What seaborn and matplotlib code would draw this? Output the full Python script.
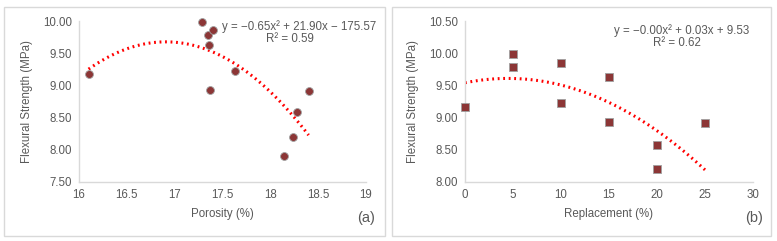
import numpy as np
import pandas as pd
import seaborn as sns
from matplotlib import pyplot as plt
from matplotlib.patches import Rectangle
from matplotlib.transforms import Bbox, TransformedBbox

# values
porosity = [16.10, 17.29, 17.35, 17.40, 17.36, 17.37, 17.63, 18.40, 18.28, 18.24, 18.14]
replacement = [0, 5, 5, 10, 15, 15, 10, 25, 20, 20, 25]
strength = [9.17, 9.99, 9.79, 9.855, 9.63, 8.93, 9.23, 8.92, 8.58, 8.20, 7.91]

eq_a = "y = \u22120.65x\u00b2 + 21.90x \u2212 175.57"
r2_a = "R\u00b2 = 0.59"
eq_b = "y = \u22120.00x\u00b2 + 0.03x + 9.53"
r2_b = "R\u00b2 = 0.62"

df = pd.DataFrame({'porosity': porosity, 'replacement': replacement, 'strength': strength})

sns.set_theme(style='white')
plt.rcParams['font.family'] = ['Liberation Sans', 'DejaVu Sans']

W, H = 777, 241
fig = plt.figure(figsize=(W / 100, H / 100), dpi=100)

grey_txt = '#595959'
spine_c = '#d9d9d9'
mark_c = '#8c3636'
fs = 8.3


def px_axes(x0, x1, y0, y1):
    return fig.add_axes([x0 / W, 1 - y1 / H, (x1 - x0) / W, (y1 - y0) / H])


def style(ax):
    for s in ['top', 'right']:
        ax.spines[s].set_visible(False)
    for s in ['left', 'bottom']:
        ax.spines[s].set_color(spine_c)
        ax.spines[s].set_linewidth(1)
    ax.tick_params(length=0, labelsize=fs, colors=grey_txt, pad=5)
    ax.set_facecolor('white')


def trend(ax, x, y, lo, hi):
    # second order polynomial trendline, like the spreadsheet one
    c = np.polyfit(x, y, 2)
    xs = np.linspace(lo, hi, 100)
    sns.lineplot(x=xs, y=np.polyval(c, xs), ax=ax, color='#ff0000', linestyle=(0, (0.6, 1.2)),
                 linewidth=2.2, zorder=1)


def widen_clip(ax):
    # markers on the y axis are not cut, points below the x axis stay hidden
    box = TransformedBbox(Bbox([[-0.05, 0], [1.05, 1.1]]), ax.transAxes)
    for coll in ax.collections:
        coll.set_clip_box(box)


# frames around each panel
fig.patches.append(Rectangle((4 / W, 1 - 236 / H), 381 / W, 229 / H, transform=fig.transFigure,
                             fill=False, edgecolor='#d9d9d9', linewidth=1))
fig.patches.append(Rectangle((392 / W, 1 - 236 / H), 379 / W, 229 / H, transform=fig.transFigure,
                             fill=False, edgecolor='#d9d9d9', linewidth=1))

# (a)
ax1 = px_axes(79, 366, 21, 182)
trend(ax1, porosity, strength, min(porosity), max(porosity))
sns.scatterplot(data=df, x='porosity', y='strength', ax=ax1, marker='o', s=32, color=mark_c,
                edgecolor='#a0a0a0', linewidth=0.6, zorder=3)
widen_clip(ax1)
ax1.set_xlim(16, 19)
ax1.set_ylim(7.5, 10.0)
ax1.set_xticks(np.arange(16, 19.01, 0.5))
ax1.set_xticklabels(['16', '16.5', '17', '17.5', '18', '18.5', '19'])
ax1.set_yticks(np.arange(7.5, 10.01, 0.5))
ax1.yaxis.set_major_formatter('{x:.2f}')
ax1.set_xlabel('Porosity (%)', fontsize=fs, color=grey_txt, labelpad=5)
ax1.set_ylabel('Flexural Strength (MPa)', fontsize=fs, color=grey_txt, labelpad=7)
style(ax1)
fig.text(299 / W, 1 - 27 / H, eq_a, ha='center', va='center', fontsize=fs, color=grey_txt)
fig.text(290 / W, 1 - 39.5 / H, r2_a, ha='center', va='center', fontsize=fs, color=grey_txt)
fig.text(366 / W, 1 - 218 / H, '(a)', ha='center', va='center', fontsize=10.5, color=grey_txt)

# (b)
ax2 = px_axes(465, 753, 21, 182)
trend(ax2, replacement, strength, 0, 25)
sns.scatterplot(data=df, x='replacement', y='strength', ax=ax2, marker='s', s=32, color=mark_c,
                edgecolor='#a0a0a0', linewidth=0.6, zorder=3)
widen_clip(ax2)
ax2.set_xlim(0, 30)
ax2.set_ylim(8.0, 10.5)
ax2.set_xticks(np.arange(0, 31, 5))
ax2.set_yticks(np.arange(8.0, 10.51, 0.5))
ax2.yaxis.set_major_formatter('{x:.2f}')
ax2.set_xlabel('Replacement (%)', fontsize=fs, color=grey_txt, labelpad=5)
ax2.set_ylabel('Flexural Strength (MPa)', fontsize=fs, color=grey_txt, labelpad=7)
style(ax2)
fig.text(682 / W, 1 - 31 / H, eq_b, ha='center', va='center', fontsize=fs, color=grey_txt)
fig.text(677 / W, 1 - 43.5 / H, r2_b, ha='center', va='center', fontsize=fs, color=grey_txt)
fig.text(754 / W, 1 - 218 / H, '(b)', ha='center', va='center', fontsize=10.5, color=grey_txt)

fig.savefig('out.png', dpi=100, facecolor='white')
